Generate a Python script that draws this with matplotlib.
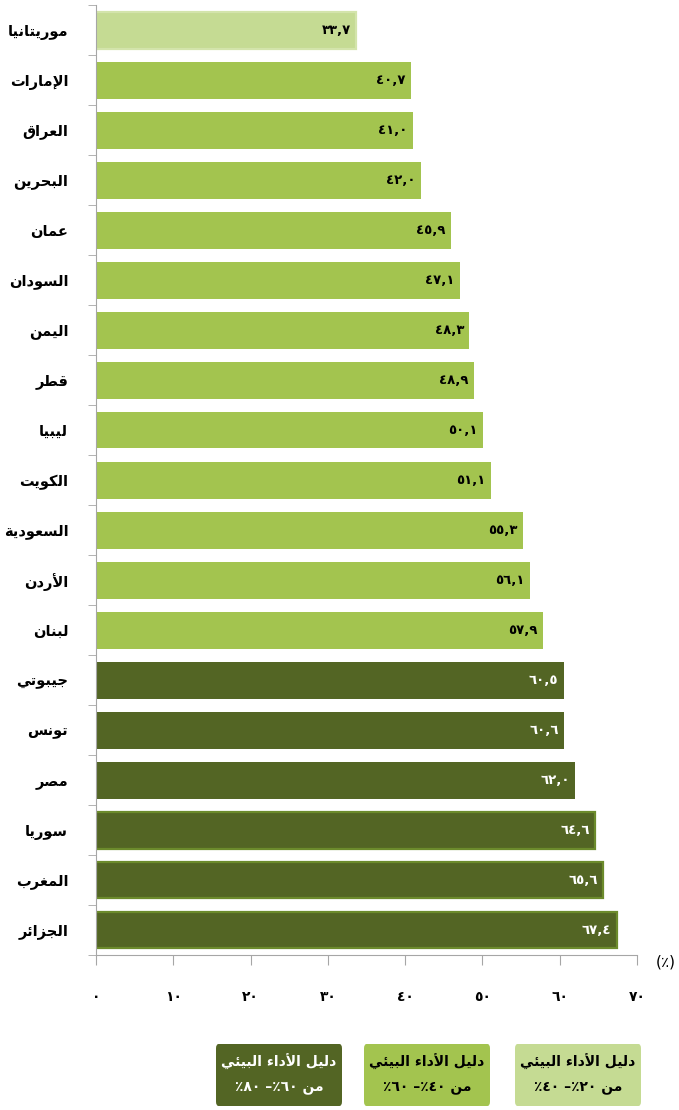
import numpy as np
import matplotlib
matplotlib.use("Agg")
import matplotlib.pyplot as plt
from matplotlib.patches import FancyBboxPatch

plt.rcParams['font.family'] = ['DejaVu Sans']

countries = ["موريتانيا", "الإمارات", "العراق", "البحرين", "عمان", "السودان",
             "اليمن", "قطر", "ليبيا", "الكويت", "السعودية", "الأردن", "لبنان",
             "جيبوتي", "تونس", "مصر", "سوريا", "المغرب", "الجزائر"]
scores = [33.7, 40.7, 41.0, 42.0, 45.9, 47.1, 48.3, 48.9, 50.1, 51.1,
          55.3, 56.1, 57.9, 60.5, 60.6, 62.0, 64.6, 65.6, 67.4]
xticks = [0, 10, 20, 30, 40, 50, 60, 70]
band_titles = ["دليل الأداء البيئي"] * 3
band_ranges = [(60, 80), (40, 60), (20, 40)]

LIGHT = "#C5DB93"
MID = "#A3C44F"
DARK = "#536524"

# --- minimal arabic shaping (matplotlib draws glyphs left to right, unjoined)
FOUR = {'ئ': 0xFE89, 'ب': 0xFE8F, 'ت': 0xFE95, 'ث': 0xFE99, 'ج': 0xFE9D,
        'ح': 0xFEA1, 'خ': 0xFEA5, 'س': 0xFEB1, 'ش': 0xFEB5, 'ص': 0xFEB9,
        'ض': 0xFEBD, 'ط': 0xFEC1, 'ظ': 0xFEC5, 'ع': 0xFEC9, 'غ': 0xFECD,
        'ف': 0xFED1, 'ق': 0xFED5, 'ك': 0xFED9, 'ل': 0xFEDD, 'م': 0xFEE1,
        'ن': 0xFEE5, 'ه': 0xFEE9, 'ي': 0xFEF1}
TWO = {'آ': 0xFE81, 'أ': 0xFE83, 'ؤ': 0xFE85, 'إ': 0xFE87, 'ا': 0xFE8D,
       'ة': 0xFE93, 'د': 0xFEA9, 'ذ': 0xFEAB, 'ر': 0xFEAD, 'ز': 0xFEAF,
       'و': 0xFEED, 'ى': 0xFEEF}
LAMALEF = {'آ': 0xFEF5, 'أ': 0xFEF7, 'إ': 0xFEF9, 'ا': 0xFEFB}


def shape(text):
    chars = list(text)
    out = []
    i = 0
    while i < len(chars):
        c = chars[i]
        prev = chars[i - 1] if i > 0 else ''
        joins_prev = prev in FOUR
        if c == 'ل' and i + 1 < len(chars) and chars[i + 1] in LAMALEF:
            base = LAMALEF[chars[i + 1]]
            out.append(chr(base + 1 if joins_prev else base))
            i += 2
            continue
        nxt = chars[i + 1] if i + 1 < len(chars) else ''
        if c in FOUR:
            joins_next = nxt in FOUR or nxt in TWO
            base = FOUR[c]
            if joins_prev and joins_next:
                out.append(chr(base + 3))
            elif joins_prev:
                out.append(chr(base + 1))
            elif joins_next:
                out.append(chr(base + 2))
            else:
                out.append(chr(base))
        elif c in TWO:
            out.append(chr(TWO[c] + 1 if joins_prev else TWO[c]))
        elif c == 'ء':
            out.append(chr(0xFE80))
        else:
            out.append(c)
        i += 1
    return ''.join(reversed(out))


def ar_num(s):
    return s.translate(str.maketrans("0123456789", "٠١٢٣٤٥٦٧٨٩"))


def band(v):
    if v < 40:
        return LIGHT
    if v < 60:
        return MID
    return DARK


fig = plt.figure(figsize=(6.79, 11.10), dpi=100)
ax = fig.add_axes([96 / 679, 1 - 955 / 1110, 541 / 679, 950 / 1110])

n = len(countries)
y = np.arange(n)
colors = [band(v) for v in scores]
edges = []
for v in scores:
    if v >= 64:
        edges.append("#6C8B2C")
    elif v < 40:
        edges.append("#D3E4AB")
    else:
        edges.append("none")
ax.barh(y, scores, height=0.74, color=colors, edgecolor=edges, linewidth=1.6)

for i, v in enumerate(scores):
    tc = "white" if v >= 60 else "black"
    ax.text(v - 0.7, i, ar_num(f"{v:.1f}".replace('.', ',')), ha='right',
            va='center', fontsize=9.5, fontweight='bold', color=tc)

ax.set_xlim(0, 70)
ax.set_ylim(n - 0.5, -0.5)
ax.set_yticks(y)
ax.set_yticklabels([shape(c) for c in countries], fontsize=10.5, fontweight='bold')
ax.set_yticks(np.arange(n + 1) - 0.5, minor=True)
ax.tick_params(axis='y', which='major', length=0, pad=20)
ax.tick_params(axis='y', which='minor', length=6, color='#A6A6A6')
ax.set_xticks(xticks)
ax.set_xticklabels([ar_num(str(t)) for t in xticks], fontsize=10, fontweight='bold')
ax.tick_params(axis='x', length=7, color='#A6A6A6', pad=18)
for s in ('top', 'right'):
    ax.spines[s].set_visible(False)
for s in ('left', 'bottom'):
    ax.spines[s].set_color('#A6A6A6')

fig.text(666 / 679, 1 - 962 / 1110, "(٪)", ha='center', va='center', fontsize=11)

# legend boxes along the bottom
box_x = [216, 364, 515]
box_fill = [DARK, MID, LIGHT]
for bx, fc, title, (lo, hi) in zip(box_x, box_fill, band_titles, band_ranges):
    x0 = bx / 679
    w = 126 / 679
    y0 = 1 - 1106 / 1110
    h = 62 / 1110
    fig.patches.append(FancyBboxPatch((x0, y0), w, h,
                                      boxstyle="round,pad=0,rounding_size=0.004",
                                      transform=fig.transFigure, fc=fc, ec='none'))
    tc = "white" if fc == DARK else "black"
    line2 = "٪" + ar_num(str(hi)) + " –٪" + ar_num(str(lo)) + " " + shape("من")
    fig.text(x0 + w / 2, 1 - 1062 / 1110, shape(title), ha='center', va='center',
             fontsize=10, fontweight='bold', color=tc)
    fig.text(x0 + w / 2, 1 - 1087 / 1110, line2, ha='center', va='center',
             fontsize=10, fontweight='bold', color=tc)

fig.savefig("out.png", dpi=100)
